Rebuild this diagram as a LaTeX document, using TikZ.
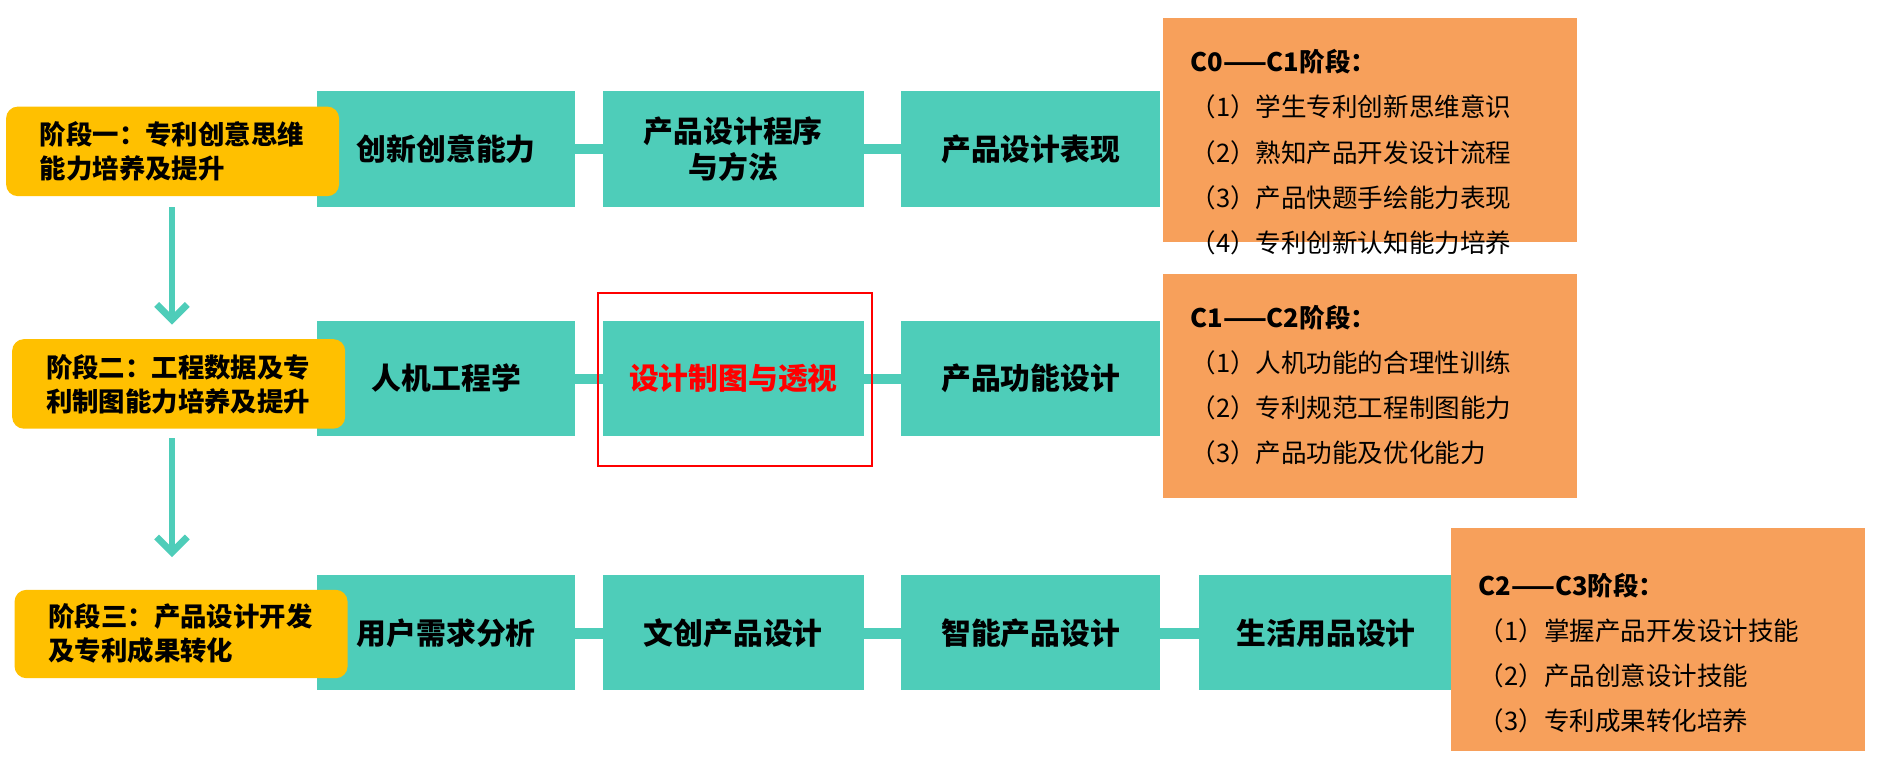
\documentclass[tikz,border=0pt]{standalone}
\usepackage{fontspec}
\setmainfont{Noto Sans CJK SC}
\usetikzlibrary{arrows.meta}
\definecolor{teal}{HTML}{4ECDB9}
\definecolor{gold}{HTML}{FFC000}
\definecolor{peach}{HTML}{F7A05B}
\tikzset{
  course/.style={fill=teal,draw=none,font=\fontsize{17.5}{21}\selectfont\bfseries},
  stage/.style={fill=gold,rounded corners=7pt,font=\fontsize{15.5}{20}\selectfont\bfseries,align=left},
  goal/.style={fill=peach,font=\fontsize{15}{19.5}\selectfont,align=left},
  link/.style={teal,line width=6pt},
  down/.style={teal,line width=4pt,-{Straight Barb[length=9pt,width=18pt]}}
}
\newcommand{\course}[6]{\fill[teal] (#1,#2) rectangle (#3,#4);
  \node[font=\fontsize{17.5}{21}\selectfont\bfseries,align=center] (#5) at ({(#1+#3)/2},{(#2+#4)/2}) {#6};}
\begin{document}
\begin{tikzpicture}[x=0.025cm,y=-0.025cm]
\useasboundingbox (0,0) rectangle (1563,628);
% connecting lines
\draw[link] (300,123) -- (940,123);
\draw[link] (300,313) -- (940,313);
\draw[link] (300,523) -- (1180,523);
% courses, row 1
\course{262}{75}{475}{171}{c11}{创新创意能力}
\course{498}{75}{713}{171}{c12}{产品设计程序\\与方法}
\course{744}{75}{958}{171}{c13}{产品设计表现}
% row 2
\course{262}{265}{475}{360}{c21}{人机工程学}
\course{498}{265}{713}{360}{c22}{\color{red}设计制图与透视}
\course{744}{265}{958}{360}{c23}{产品功能设计}
\draw[red,line width=1.2pt] (494,242) rectangle (720,385);
% row 3
\course{262}{475}{475}{570}{c31}{用户需求分析}
\course{498}{475}{713}{570}{c32}{文创产品设计}
\course{744}{475}{958}{570}{c33}{智能产品设计}
\course{990}{475}{1200}{570}{c34}{生活用品设计}
% stages
\fill[gold,rounded corners=7pt] (5,88) rectangle (280,162);
\node[stage,fill=none] (s1) at (142,125) {阶段一：专利创意思维\\能力培养及提升};
\fill[gold,rounded corners=7pt] (10,280) rectangle (285,354);
\node[stage,fill=none] (s2) at (147,317) {阶段二：工程数据及专\\利制图能力培养及提升};
\fill[gold,rounded corners=7pt] (12,487) rectangle (287,560);
\node[stage,fill=none] (s3) at (149,523) {阶段三：产品设计开发\\及专利成果转化};
\coordinate (a1) at (142,171);
\coordinate (a2) at (142,268);
\coordinate (a3) at (142,362);
\coordinate (a4) at (142,460);
\draw[down] (a1) -- (a2);
\draw[down] (a3) -- (a4);
% goals
\fill[peach] (960,15) rectangle (1302,200);
\node[anchor=north west,align=left,font=\fontsize{15}{26.5}\selectfont] (g1) at (978,36)
  {\textbf{C0——C1阶段：}\\（1）学生专利创新思维意识\\（2）熟知产品开发设计流程\\（3）产品快题手绘能力表现\\（4）专利创新认知能力培养};
\fill[peach] (960,226) rectangle (1302,411);
\node[anchor=north west,align=left,font=\fontsize{15}{26.5}\selectfont] (g2) at (978,247)
  {\textbf{C1——C2阶段：}\\（1）人机功能的合理性训练\\（2）专利规范工程制图能力\\（3）产品功能及优化能力};
\fill[peach] (1198,436) rectangle (1540,620);
\node[anchor=north west,align=left,font=\fontsize{15}{26.5}\selectfont] (g3) at (1216,468)
  {\textbf{C2——C3阶段：}\\（1）掌握产品开发设计技能\\（2）产品创意设计技能\\（3）专利成果转化培养};
\end{tikzpicture}
\end{document}
